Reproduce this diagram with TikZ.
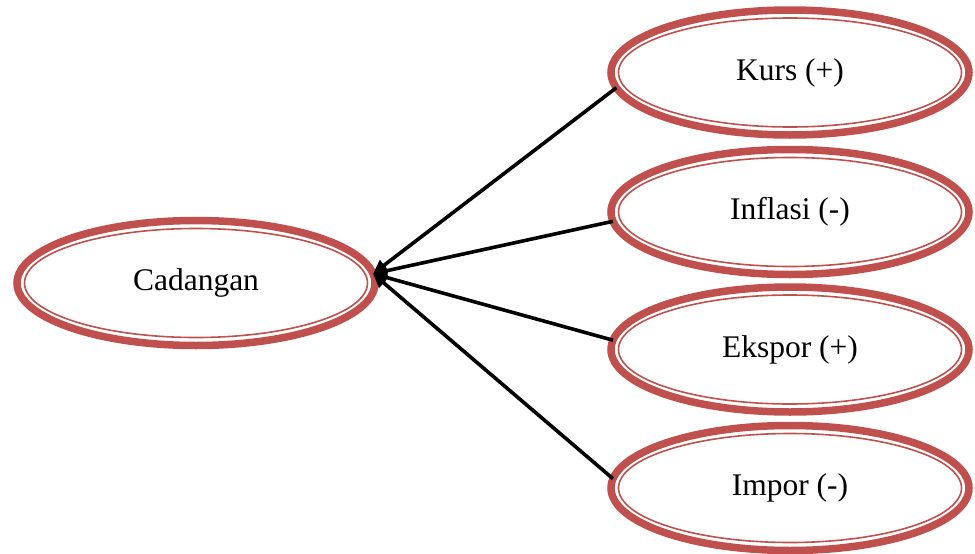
\documentclass[tikz,border=0pt]{standalone}
\usepackage{fontspec}
\setmainfont{Liberation Serif}
\usetikzlibrary{shapes.geometric,arrows.meta}
\definecolor{accent}{HTML}{C0504D}
\begin{document}
\begin{tikzpicture}[x=1pt,y=-1pt,
  ell/.style={ellipse, draw=accent, line width=7.5pt, minimum width=358pt, minimum height=125pt,
    inner sep=0pt, outer sep=0pt, font=\fontsize{31.5}{36}\selectfont},
  inring/.style={draw=accent, line width=1.6pt},
  conn/.style={line width=3.6pt, -{Triangle[length=14pt,width=13pt]}}]
\useasboundingbox (0,0) rectangle (975,554);
\node[ell] (c) at (196,283) {Cadangan};
\node[ell] (k) at (790,72.5) {Kurs (+)};
\node[ell] (i) at (790,212) {Inflasi (-)};
\node[ell] (e) at (790,349.5) {Ekspor (+)};
\node[ell] (m) at (790,488) {Impor (-)};
\foreach \n in {c,k,i,e,m}
  \draw[inring] (\n.center) ellipse [x radius=171.5pt, y radius=54.5pt];
\draw[conn] (k.185) -- (c.3.5);
\draw[conn] (i.183.6) -- (c.3.5);
\draw[conn] (e.177.9) -- (c.3.5);
\draw[conn] (m.177.4) -- (c.3.5);
\end{tikzpicture}
\end{document}
